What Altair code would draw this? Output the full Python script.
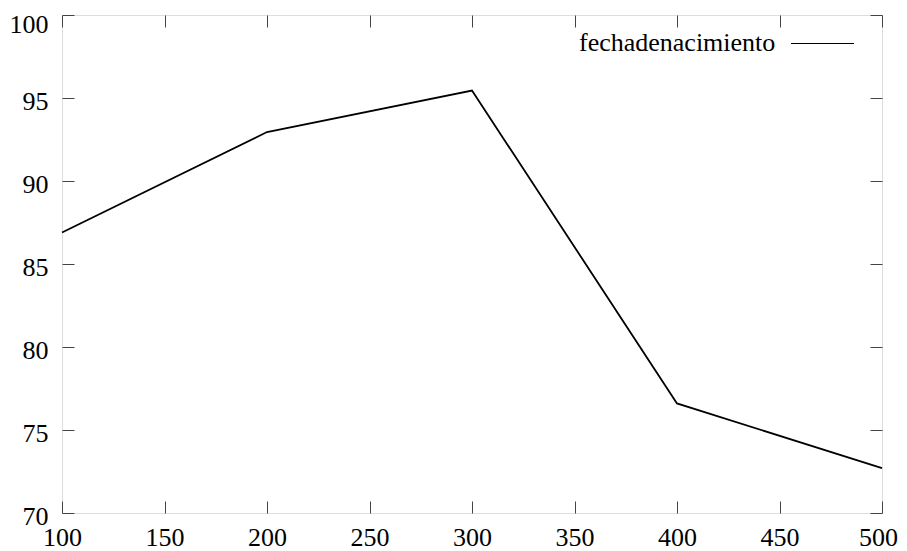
import altair as alt
import pandas as pd

# Data
x_vals = [100, 200, 300, 400, 500]
y_vals = [86.9, 92.95, 95.45, 76.6, 72.7]
series_name = "fechadenacimiento"
x_ticks = [100, 150, 200, 250, 300, 350, 400, 450, 500]
y_ticks = [70, 75, 80, 85, 90, 95, 100]

df = pd.DataFrame({"x": x_vals, "y": y_vals, "serie": [series_name] * len(x_vals)})

FONT = "Liberation Serif"
FS = 26

xscale = alt.Scale(domain=[100, 500], nice=False, zero=False)
yscale = alt.Scale(domain=[70, 100], nice=False, zero=False)

common = dict(grid=False, domain=False, tickSize=12, offset=-12, tickColor="#444",
              tickWidth=1, labelFont=FONT, labelFontSize=FS, labelColor="black",
              labelFlush=False, title=None)

base = alt.Chart(df)

line = base.mark_line(color="black", strokeWidth=1.8).encode(
    x=alt.X("x:Q", scale=xscale,
            axis=alt.Axis(orient="bottom", values=x_ticks, labelPadding=11,
                          labelOffset={"condition": {"test": "datum.value == 500", "value": -4},
                                       "value": 0},
                          **common)),
    y=alt.Y("y:Q", scale=yscale,
            axis=alt.Axis(orient="left", values=y_ticks, labelPadding=14,
                          labelOffset={"condition": {"test": "datum.value == 100", "value": 9},
                                       "value": 3},
                          **common)),
    color=alt.Color("serie:N", scale=alt.Scale(range=["black"]),
                    legend=alt.Legend(title=series_name, titleOrient="left", labelExpr="''",
                                      orient="none", legendX=517, legendY=-4,
                                      symbolType="stroke", symbolSize=3969,
                                      symbolStrokeWidth=1.2, symbolStrokeColor="black",
                                      titleFont=FONT, titleFontSize=FS, titleFontWeight="normal",
                                      titleColor="black", titleLimit=500,
                                      titleAnchor="middle", titleBaseline="top",
                                      padding=0, titlePadding=14, labelOffset=0)),
)

mirror = base.mark_line(opacity=0).encode(
    x=alt.X("x:Q", scale=xscale,
            axis=alt.Axis(orient="top", values=x_ticks, labels=False, **common)),
    y=alt.Y("y:Q", scale=yscale,
            axis=alt.Axis(orient="right", values=y_ticks, labels=False, **common)),
)

chart = (
    alt.layer(line, mirror)
    .resolve_axis(x="independent", y="independent")
    .properties(width=820, height=498,
                padding={"left": 54, "top": 7, "right": 17, "bottom": 38},
                autosize=alt.AutoSizeParams(type="none"))
    .configure_view(stroke="black", strokeWidth=1.5)
    .configure(background="white")
)

chart.save("out.html", embed_options={"renderer": "svg", "actions": False})
